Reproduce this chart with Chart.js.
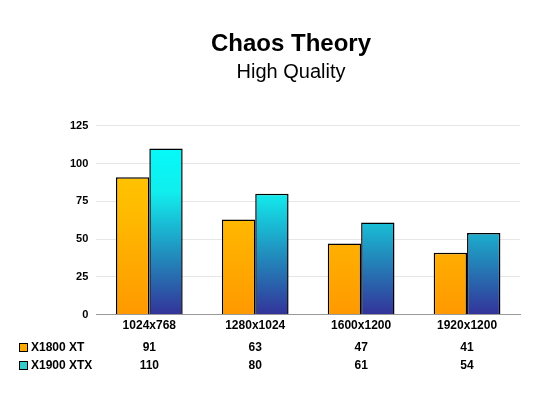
<!DOCTYPE html>
<html><head><meta charset="utf-8">
<script src="https://cdn.jsdelivr.net/npm/chart.js@4"></script>
<style>html,body{margin:0;background:#fff}#wrap{width:550px;height:413px}</style>
</head><body><div id="wrap"><canvas id="c"></canvas></div>
<script>
const labels = ["1024x768", "1280x1024", "1600x1200", "1920x1200"];
const x1800 = [91, 63, 47, 41];
const x1900 = [110, 80, 61, 54];
const seriesNames = ["X1800 XT", "X1900 XTX"];

function grad(ctx, stops) {
  const c = ctx.chart, a = c.chartArea;
  if (!a) return stops[0][1];
  const g = c.ctx.createLinearGradient(0, a.top, 0, a.bottom);
  stops.forEach(s => g.addColorStop(s[0], s[1]));
  return g;
}

const tablePlugin = {
  id: 'table',
  afterDraw(chart) {
    const ctx = chart.ctx, xs = chart.scales.x;
    const rows = [[x1800, '#ffaa00'], [x1900, '#33cccc']];
    ctx.save();
    ctx.font = 'bold 12px Arial, "Liberation Sans"';
    ctx.textBaseline = 'middle';
    rows.forEach(([vals, col], r) => {
      const y = 348 + r * 18;
      ctx.fillStyle = col; ctx.strokeStyle = '#000'; ctx.lineWidth = 1;
      ctx.fillRect(19.5, y - 4.5, 8, 8); ctx.strokeRect(19.5, y - 4.5, 8, 8);
      ctx.fillStyle = '#000'; ctx.textAlign = 'left';
      ctx.fillText(seriesNames[r], 31, y);
      ctx.textAlign = 'center';
      vals.forEach((v, i) => ctx.fillText(String(v), xs.getPixelForValue(i), y));
    });
    ctx.restore();
  }
};

new Chart(document.getElementById('c'), {
  type: 'bar',
  data: {
    labels: labels,
    datasets: [
      { label: seriesNames[0], data: x1800, borderColor: '#000', borderWidth: 1.5,
        backgroundColor: c => grad(c, [[0, '#ffcc00'], [0.45, '#ffbb00'], [1, '#ff9900']]) },
      { label: seriesNames[1], data: x1900, borderColor: '#000', borderWidth: 1.5,
        backgroundColor: c => grad(c, [[0, '#00ffff'], [0.35, '#11eeee'], [0.7, '#2288bb'], [1, '#333399']]) }
    ]
  },
  options: {
    responsive: true, maintainAspectRatio: false, animation: false,
    layout: { padding: { left: 62, right: 30, top: 10, bottom: 76 } },
    datasets: { bar: { categoryPercentage: 0.63, barPercentage: 1 } },
    plugins: {
      legend: { display: false }, tooltip: { enabled: false },
      title: { display: true, text: 'Chaos Theory', color: '#000',
        font: { family: 'Arial, "Liberation Sans"', size: 24, weight: 'bold' }, padding: { top: 20, bottom: 0 } },
      subtitle: { display: true, text: 'High Quality', color: '#000',
        font: { family: 'Arial, "Liberation Sans"', size: 20 }, padding: { top: 2, bottom: 41 } }
    },
    scales: {
      x: { grid: { display: false, drawTicks: false }, border: { color: '#999' },
        ticks: { color: '#000', padding: 4, font: { family: 'Arial, "Liberation Sans"', size: 12, weight: 'bold' } } },
      y: { min: 0, max: 125, ticks: { stepSize: 25, color: '#000', padding: 8,
          font: { family: 'Arial, "Liberation Sans"', size: 11, weight: 'bold' } },
        grid: { color: '#e6e6e6', drawTicks: false }, border: { display: false } }
    }
  },
  plugins: [tablePlugin]
});
</script></body></html>
